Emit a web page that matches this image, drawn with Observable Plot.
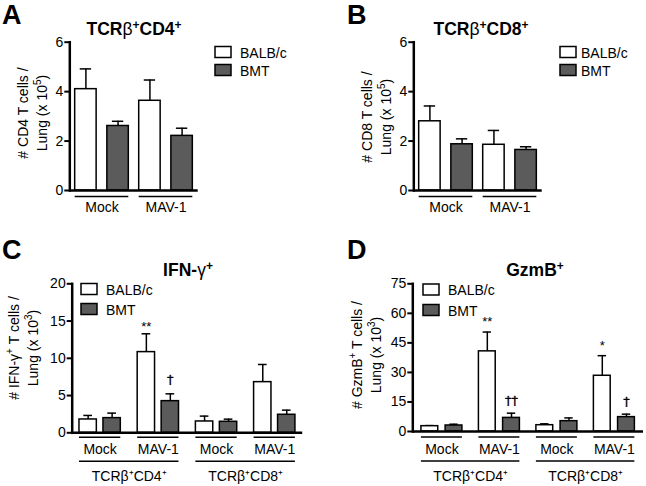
<!DOCTYPE html>
<html>
<head>
<meta charset="utf-8">
<script src="https://cdn.jsdelivr.net/npm/d3@7"></script>
<script src="https://cdn.jsdelivr.net/npm/@observablehq/plot@0.6"></script>
<style>
  html, body { margin: 0; padding: 0; background: #fff; }
  #root { position: relative; width: 646px; height: 486px; overflow: hidden; font-family: "Liberation Sans", Arial, sans-serif; }
  #root svg { position: absolute; left: 0; top: 0; }
  #root g[aria-label="y-axis tick label"], #root g[aria-label="y-axis tick label"] text { font-size: 14px; }
</style>
</head>
<body>
<div id="root"></div>
<script>
// ---------- data ----------
const strains = ["BALB/c", "BMT"];
const strainFill = ["#ffffff", "#5b5b5b"];
const treatments = ["Mock", "MAV-1"];
const cellTypes = ["CD4", "CD8"];
const cellLabels = ["TCRβ⁺CD4⁺", "TCRβ⁺CD8⁺"];

// Panel A: TCRβ+CD4+ (# x 10^5), groups: Mock, MAV-1
const aBalbMean = [4.10, 3.63];
const aBalbSem = [0.82, 0.84];
const aBmtMean = [2.61, 2.21];
const aBmtSem = [0.19, 0.31];
const aTicks = [0, 2, 4, 6];

// Panel B: TCRβ+CD8+ (# x 10^5)
const bBalbMean = [2.80, 1.85];
const bBalbSem = [0.62, 0.58];
const bBmtMean = [1.87, 1.64];
const bBmtSem = [0.22, 0.13];
const bTicks = [0, 2, 4, 6];

// Panel C: IFN-γ+ (# x 10^3), groups: CD4 Mock, CD4 MAV-1, CD8 Mock, CD8 MAV-1
const cBalbMean = [1.79, 10.83, 1.52, 6.80];
const cBalbSem = [0.54, 2.46, 0.72, 2.37];
const cBmtMean = [1.97, 4.25, 1.48, 2.42];
const cBmtSem = [0.67, 0.98, 0.35, 0.62];
const cBalbSig = ["", "**", "", ""];
const cBmtSig = ["", "†", "", ""];
const cTicks = [0, 5, 10, 15, 20];

// Panel D: GzmB+ (# x 10^3)
const dBalbMean = [2.7, 40.7, 3.2, 28.3];
const dBalbSem = [0.3, 9.8, 0.7, 10.2];
const dBmtMean = [3.05, 6.9, 5.25, 7.3];
const dBmtSem = [0.65, 2.4, 1.65, 1.5];
const dBalbSig = ["", "**", "", "*"];
const dBmtSig = ["", "††", "", "†"];
const dTicks = [0, 15, 30, 45, 60, 75];

// ---------- helpers ----------
const W = 646, H = 486;
const root = document.getElementById("root");
const font = "'Liberation Sans', Arial, sans-serif";

const simpleGroups = treatments.map(t => ({key: t, treatment: t}));
const nestedGroups = cellTypes.flatMap(c => treatments.map(t => ({key: c + "|" + t, treatment: t, cell: c})));
const cellGroups = cellTypes.map((c, i) => ({cell: c, label: cellLabels[i], first: c + "|" + treatments[0], last: c + "|" + treatments[treatments.length - 1]}));

function buildRows(groups, balbMean, balbSem, bmtMean, bmtSem, balbSig, bmtSig) {
  return groups.flatMap((g, i) => [
    {...g, strain: strains[0], mean: balbMean[i], sem: balbSem[i], sig: balbSig ? balbSig[i] : ""},
    {...g, strain: strains[1], mean: bmtMean[i], sem: bmtSem[i], sig: bmtSig ? bmtSig[i] : ""}
  ]);
}

function drawPanel(cfg) {
  const {groups, rows, frameL, frameR, yTop, yBot, yMax, ticks, pi, po, barFrac, capFrac,
         ul1, lab1, nested, ul2, lab2, balbSigDy, bmtSigDy} = cfg;
  const n = groups.length;
  const step = (frameR - frameL) / (n - pi + 2 * po);
  const bw = step * (1 - pi);
  const barW = bw * barFrac;
  const capW = barW * capFrac;
  const off = (bw - barW) / 2;
  const balb = rows.filter(d => d.strain === strains[0]);
  const bmt = rows.filter(d => d.strain === strains[1]);
  const top = d => d.mean + d.sem;
  const marks = [
    Plot.ruleX(balb, {x: "key", y1: "mean", y2: top, dx: -off, stroke: "black", strokeWidth: 1.5}),
    Plot.ruleX(bmt, {x: "key", y1: "mean", y2: top, dx: off, stroke: "black", strokeWidth: 1.5}),
    Plot.tickY(balb, {x: "key", y: top, insetLeft: (barW - capW) / 2, insetRight: bw - (barW + capW) / 2, stroke: "black", strokeWidth: 1.5}),
    Plot.tickY(bmt, {x: "key", y: top, insetLeft: bw - (barW + capW) / 2, insetRight: (barW - capW) / 2, stroke: "black", strokeWidth: 1.5}),
    Plot.barY(balb, {x: "key", y: "mean", insetRight: bw - barW, fill: strainFill[0], stroke: "black", strokeWidth: 1.5}),
    Plot.barY(bmt, {x: "key", y: "mean", insetLeft: bw - barW, fill: strainFill[1], stroke: "black", strokeWidth: 1.5}),
    Plot.ruleY([0], {stroke: "black", strokeWidth: 2.5}),
    Plot.frame({anchor: "left", stroke: "black", strokeWidth: 2.5}),
    Plot.axisY({ticks, tickSize: 5, tickPadding: 1.5, strokeWidth: 2, fontSize: 14, label: null, tickFormat: d => String(d)}),
    Plot.ruleY(groups, {y: 0, x1: "key", x2: "key", dy: ul1, stroke: "black", strokeWidth: 1.5}),
    Plot.text(groups, {x: "key", y: 0, text: "treatment", dy: lab1, lineAnchor: "bottom", fontSize: 14, fill: "black"}),
    Plot.text(balb.filter(d => d.sig), {x: "key", y: top, text: "sig", dx: -off, dy: balbSigDy, lineAnchor: "bottom", fontSize: 13, fill: "black", fontFamily: "Liberation Sans"}),
    Plot.text(bmt.filter(d => d.sig), {x: "key", y: top, text: "sig", dx: off, dy: bmtSigDy, lineAnchor: "bottom", fontSize: 13, fill: "black", fontFamily: "DejaVu Sans", stroke: "black", strokeWidth: 0.3})
  ];
  if (nested) {
    marks.push(
      Plot.ruleY(cellGroups, {y: 0, x1: "first", x2: "last", dy: ul2, stroke: "black", strokeWidth: 1.5}),
      Plot.text(cellGroups, {x: "first", y: 0, text: "label", dx: step / 2, dy: lab2, lineAnchor: "bottom", fontSize: 14, fill: "black"})
    );
  }
  const svg = Plot.plot({
    width: W, height: H,
    marginLeft: frameL, marginRight: W - frameR, marginTop: yTop, marginBottom: H - yBot,
    x: {type: "band", domain: groups.map(g => g.key), paddingInner: pi, paddingOuter: po, align: 0.5, round: false, axis: null},
    y: {domain: [0, yMax], axis: null},
    style: {background: "transparent", fontFamily: font, fontSize: "14px", color: "black", overflow: "visible"},
    marks
  });
  root.appendChild(svg);
}

drawPanel({groups: simpleGroups, rows: buildRows(simpleGroups, aBalbMean, aBalbSem, aBmtMean, aBmtSem),
  frameL: 69.3, frameR: 197.7, yTop: 41.7, yBot: 190, yMax: 6, ticks: aTicks,
  pi: 0.1625, po: 0.084, barFrac: 0.40, capFrac: 0.53, ul1: 6, lab1: 21, nested: false});
drawPanel({groups: simpleGroups, rows: buildRows(simpleGroups, bBalbMean, bBalbSem, bBmtMean, bBmtSem),
  frameL: 413.3, frameR: 541.7, yTop: 41.7, yBot: 190, yMax: 6, ticks: bTicks,
  pi: 0.1625, po: 0.084, barFrac: 0.40, capFrac: 0.53, ul1: 6, lab1: 21, nested: false});
drawPanel({groups: nestedGroups, rows: buildRows(nestedGroups, cBalbMean, cBalbSem, cBmtMean, cBmtSem, cBalbSig, cBmtSig),
  frameL: 71.7, frameR: 302.2, yTop: 283.3, yBot: 432.3, yMax: 20, ticks: cTicks,
  pi: 0.29, po: 0.125, barFrac: 0.42, capFrac: 0.5, ul1: 4.5, lab1: 21.5, nested: true, ul2: 28.5, lab2: 48,
  balbSigDy: -3, bmtSigDy: -10});
drawPanel({groups: nestedGroups, rows: buildRows(nestedGroups, dBalbMean, dBalbSem, dBmtMean, dBmtSem, dBalbSig, dBmtSig),
  frameL: 412.3, frameR: 643, yTop: 283.3, yBot: 431, yMax: 75, ticks: dTicks,
  pi: 0.287, po: 0.15, barFrac: 0.41, capFrac: 0.5, ul1: 5.5, lab1: 22, nested: true, ul2: 29.5, lab2: 49.5,
  balbSigDy: -6, bmtSigDy: -8});

// ---------- titles, panel letters, axis titles, legends ----------
// superscript then optional continuation text (shifted back to baseline)
const sup = (s, size, after = "") =>
  `<tspan dy="-6" font-size="${size}">${s}</tspan>` + (after ? `<tspan dy="6">${after}</tspan>` : "");
function title(x, y, parts) {
  return `<text x="${x}" y="${y}" text-anchor="middle" font-weight="bold" font-size="17.5">${parts}</text>`;
}
function ylabel(cy, b1, b2, line1, line2) {
  return `<text transform="translate(${b1},${cy}) rotate(-90)" text-anchor="middle" font-size="14">${line1}</text>` +
         `<text transform="translate(${b2},${cy}) rotate(-90)" text-anchor="middle" font-size="14">${line2}</text>`;
}
function legend(bx, tx, y1, y2) {
  return strains.map((s, i) => {
    const y = i === 0 ? y1 : y2;
    return `<rect x="${bx}" y="${y}" width="16" height="11" fill="${strainFill[i]}" stroke="black" stroke-width="1.5"/>` +
           `<text x="${tx}" y="${y + 11}" font-size="14">${s}</text>`;
  }).join("");
}
const overlay = `
<svg xmlns="http://www.w3.org/2000/svg" width="${W}" height="${H}" font-family="${font}" fill="black">
  <text x="2" y="24" font-size="27" font-weight="bold">A</text>
  <text x="347" y="24" font-size="27" font-weight="bold">B</text>
  <text x="2" y="259" font-size="27" font-weight="bold">C</text>
  <text x="347" y="259" font-size="27" font-weight="bold">D</text>
  ${title(134, 35, `TCR<tspan font-weight="normal">β</tspan>${sup("+", 12, "CD4")}${sup("+", 12)}`)}
  ${title(481, 35, `TCR<tspan font-weight="normal">β</tspan>${sup("+", 12, "CD8")}${sup("+", 12)}`)}
  ${title(188, 276, `IFN-<tspan font-weight="normal">γ</tspan>${sup("+", 12)}`)}
  ${title(535, 276, `GzmB${sup("+", 12)}`)}
  ${ylabel(113, 27.5, 46.5, "# CD4 T cells /", `Lung (x 10${sup("5", 10, ")")}`)}
  ${ylabel(117, 371.5, 390.5, "# CD8 T cells /", `Lung (x 10${sup("5", 10, ")")}`)}
  ${ylabel(348, 18.5, 37.5, `# IFN-γ${sup("+", 10, " T cells /")}`, `Lung (x 10${sup("3", 10, ")")}`)}
  ${ylabel(355, 362, 381, `# GzmB${sup("+", 10, " T cells /")}`, `Lung (x 10${sup("3", 10, ")")}`)}
  ${legend(215, 240, 46.5, 64.5)}
  ${legend(560, 581, 46.5, 64.5)}
  ${legend(81, 106, 283.5, 303.5)}
  ${legend(423, 448, 284, 304.5)}
</svg>`;
root.insertAdjacentHTML("beforeend", overlay);
</script>
</body>
</html>
